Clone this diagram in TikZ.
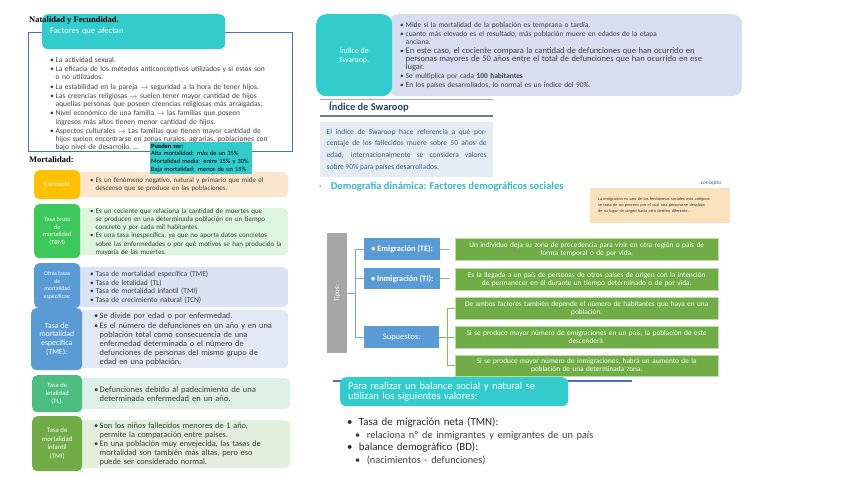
\documentclass[tikz,border=0pt]{standalone}
\usepackage{fontspec}
\setmainfont{Carlito}
\newfontfamily\titlefont{Liberation Serif}
\usepackage{xcolor}
\usepackage{tikz}
\usetikzlibrary{positioning, calc}

\definecolor{headcyan}{RGB}{51,204,204}
\definecolor{frameblue}{RGB}{68,114,196}
\definecolor{concorange}{RGB}{255,192,0}
\definecolor{concpale}{RGB}{252,229,205}
\definecolor{tbmgreen}{RGB}{60,200,90}
\definecolor{tbmpale}{RGB}{222,246,222}
\definecolor{tasablue}{RGB}{91,155,213}
\definecolor{tasapale}{RGB}{218,227,243}
\definecolor{tlgreen}{RGB}{76,190,130}
\definecolor{tlpale}{RGB}{222,240,232}
\definecolor{tmigreen}{RGB}{112,173,71}
\definecolor{tmipale}{RGB}{226,239,218}
\definecolor{swarpale}{RGB}{214,222,240}
\definecolor{tiposgray}{RGB}{166,166,166}
\definecolor{headnavy}{RGB}{38,64,100}
\definecolor{rulegray}{RGB}{100,130,130}
\definecolor{notebg}{RGB}{228,237,244}
\definecolor{notetext}{RGB}{55,95,135}
\definecolor{demoteal}{RGB}{55,185,195}
\definecolor{notepeach}{RGB}{250,226,188}
\definecolor{bodygray}{RGB}{64,64,64}

\newcommand{\bul}[1][5.5pt]{\hangindent=#1\hangafter=1\noindent\hbox to #1{\textbullet\hss}}
\newcommand{\itm}{\par\bul}

\tikzset{
  headbar/.style={
    rectangle, rounded corners=6pt, fill=headcyan, text=white,
    anchor=north west, align=left
  },
  natframe/.style={
    rectangle, draw=frameblue, line width=1.2pt, anchor=north west
  },
  bigtitle/.style={
    font=\titlefont\fontsize{8.5}{10}\selectfont\bfseries, inner sep=0pt
  },
  listtext/.style={
    anchor=north west, align=left, text=bodygray, inner sep=0pt
  },
  tagbox/.style={
    rectangle, rounded corners=5pt, anchor=north west, align=center,
    text=white, inner sep=1pt
  },
  panel/.style={
    rectangle, rounded corners=6pt, anchor=north west, align=left,
    text=bodygray, inner xsep=4pt, inner ysep=0pt
  },
  tipobox/.style={
    rectangle, fill=tasablue, anchor=north west, text=white,
    minimum width=76, font=\fontsize{8.5}{10}\selectfont
  },
  defbox/.style={
    rectangle, fill=tmigreen, draw=tmigreen!45!white, anchor=north west,
    text=white, align=center, minimum width=263, text width=257,
    inner xsep=3pt, inner ysep=0pt, font=\fontsize{7.3}{7.7}\selectfont
  },
  bluelink/.style={draw=tasablue!85!white, line width=1.3pt},
  greenlink/.style={draw=tmigreen!85!white, line width=1.3pt}
}

\begin{document}
\begin{tikzpicture}[x=1pt, y=-1pt]
  \fill[white] (0,0) rectangle (848,477);
  \useasboundingbox (0,0) rectangle (848,477);

  \node[natframe, minimum width=264, minimum height=119] (natbox) at (28,32) {};
  \node[headbar, minimum width=183, minimum height=35, text width=167,
    font=\fontsize{8.5}{10}\selectfont] (factores) at (42,14) {Factores que afectan};
  \node[bigtitle, anchor=west] (natal) at (29,20) {Natalidad y Fecundidad.};
  \node[listtext, text width=236, font=\fontsize{7.5}{8.3}\selectfont] (natlist) at (48,57)
    {\leftskip=2pt\parskip=0.9pt
     \bul La actividad sexual.
     \itm La eficacia de los métodos anticonceptivos utilizados y si estos son\newline o no utilizados.
     \itm La estabilidad en la pareja $\rightarrow$ seguridad a la hora de tener hijos.
     \itm Las creencias religiosas $\rightarrow$ suelen tener mayor cantidad de hijos\newline aquellas personas que poseen creencias religiosas más arraigadas.
     \itm Nivel económico de una familia $\rightarrow$ las familias que poseen\newline ingresos más altos tienen menor cantidad de hijos.
     \itm Aspectos culturales $\rightarrow$ Las familias que tienen mayor cantidad de\newline hijos suelen encontrarse en zonas rurales, agrarias, poblaciones con\newline bajo nivel de desarrollo, …\par};
  \node[bigtitle, anchor=west] (mortal) at (29,160) {Mortalidad:};

  \node[panel, fill=concpale, minimum width=212, minimum height=25, text width=204,
    font=\fontsize{7}{8}\selectfont] (concdef) at (76,172)
    {\leftskip=10pt \bul Es un fenómeno negativo, natural y primario que mide el\newline descenso que se produce en las poblaciones.\par};
  \node[tagbox, fill=concorange, minimum width=46, minimum height=29,
    font=\fontsize{6.8}{8}\selectfont] (concepto) at (34,170) {Concepto};
  \node[headbar, rounded corners=0pt, text=black, minimum width=102, minimum height=32,
    text width=100, inner xsep=1pt, inner ysep=0pt, font=\fontsize{6.4}{7.9}\selectfont] (pueden) at (150,142)
    {\textbf{Pueden ser:}\\Alta mortalidad: más de un 35\%\\Mortalidad media: entre 15\% y 30\%\\Baja mortalidad: menos de un 15\%};

  \node[panel, fill=tbmpale, minimum width=212, minimum height=46, text width=204,
    font=\fontsize{7}{8.1}\selectfont] (tbmdef) at (76,208)
    {\leftskip=10pt\parskip=0.6pt
     \bul Es un cociente que relaciona la cantidad de muertes que\newline se producen en una determinada población en un tiempo\newline concreto y por cada mil habitantes.
     \itm Es una tasa inespecífica, ya que no aporta datos concretos\newline sobre las enfermedades o por qué motivos se han producido la\newline mayoría de las muertes.\par};
  \node[tagbox, fill=tbmgreen, minimum width=46, minimum height=54,
    font=\fontsize{6.3}{7.4}\selectfont] (tbm) at (34,204) {Tasa bruta\\de\\mortalidad\\(TBM)};

  \node[panel, fill=tasapale, minimum width=212, minimum height=40, text width=204,
    font=\fontsize{7.5}{8.6}\selectfont] (otrasdef) at (76,267)
    {\leftskip=10pt
     \bul Tasa de mortalidad específica (TME)
     \itm Tasa de letalidad (TL)
     \itm Tasa de mortalidad infantil (TMI)
     \itm Tasa de crecimiento natural (TCN)\par};
  \node[tagbox, fill=tasablue, minimum width=46, minimum height=45,
    font=\fontsize{5.8}{7.6}\selectfont] (otras) at (34,263) {Otras tasas\\de\\mortalidad\\específicas:};

  \node[panel, fill=tasapale!80!white, minimum width=210, minimum height=58, text width=202,
    font=\fontsize{8.3}{9}\selectfont] (tmedef) at (78,310)
    {\leftskip=12pt\parskip=1pt
     \bul Se divide por edad o por enfermedad.
     \itm Es el número de defunciones en un año y en una\newline población total como consecuencia de una\newline enfermedad determinada o el número de\newline defunciones de personas del mismo grupo de\newline edad en una población.\par};
  \node[tagbox, fill=tasablue, minimum width=51, minimum height=62,
    font=\fontsize{7.8}{8.8}\selectfont] (tme) at (31,308) {Tasa de\\mortalidad\\específica\\(TME):};

  \node[panel, fill=tlpale, minimum width=212, minimum height=31, text width=204,
    font=\fontsize{8.5}{9}\selectfont] (tldef) at (78,378)
    {\leftskip=12pt \bul Defunciones debido al padecimiento de una\newline determinada enfermedad en un año.\par};
  \node[tagbox, fill=tlgreen, minimum width=50, minimum height=37,
    font=\fontsize{6.6}{8}\selectfont] (tl) at (32,375) {Tasa de\\letalidad\\(TL).};

  \node[panel, fill=tmipale, minimum width=212, minimum height=48, text width=204,
    font=\fontsize{8.3}{8.6}\selectfont] (tmidef) at (78,420)
    {\leftskip=12pt\parskip=1pt
     \bul Son los niños fallecidos menores de 1 año,\newline permite la comparación entre países.
     \itm En una población muy envejecida, las tasas de\newline mortalidad son también más altas, pero eso\newline puede ser considerado normal.\par};
  \node[tagbox, fill=tmigreen, minimum width=50, minimum height=55,
    font=\fontsize{6.8}{8.5}\selectfont] (tmi) at (32,416) {Tasa de\\mortalidad\\infantil\\(TMI)};

  \node[panel, rounded corners=10pt, fill=swarpale, minimum width=354, minimum height=82,
    text width=346, font=\fontsize{7.4}{8}\selectfont] (swardef) at (388,14)
    {\leftskip=8pt\parskip=1pt
     \bul Mide si la mortalidad de la población es temprana o tardía.
     \itm cuanto más elevado es el resultado, más población muere en edades de la etapa\newline anciana.
     \itm {\fontsize{8.5}{8}\selectfont En este caso, el cociente compara la cantidad de defunciones que han ocurrido en\newline personas mayores de 50 años entre el total de defunciones que han ocurrido en ese\newline lugar.}
     \itm Se multiplica por cada \textbf{100 habitantes}
     \itm En los países desarrollados, lo normal es un índice del 90\%.\par};
  \node[tagbox, rounded corners=10pt, fill=headcyan, minimum width=76, minimum height=82,
    font=\fontsize{7.8}{8.5}\selectfont] (swaroop) at (316,14) {Índice de\\Swaroop.};

  \node[anchor=west, inner sep=0pt, text=headnavy, font=\fontsize{10.4}{11}\selectfont\bfseries]
    (swartitle) at (329,107) {Índice de Swaroop};
  \node[rectangle, fill=notebg, anchor=north west, minimum width=173, minimum height=55,
    text width=160, inner xsep=6.5pt, align=justify, text=notetext,
    font=\fontsize{7.5}{11.8}\selectfont] (swarnote) at (320,122)
    {El índice de Swaroop hace referencia a qué por-\break centaje de los fallecidos muere sobre 50 años de\break edad, internacionalmente se considera valores\break sobre 90\% para países desarrollados.};
  \draw[gray!70, line width=0.8pt] ($(swarnote.west |- swaroop.south)+(0,3)$) -- ($(swarnote.east |- swaroop.south)+(0,3)$);
  \draw[rulegray, line width=1.4pt] ($(swarnote.north west)+(0,-6)$) -- ($(swarnote.north east)+(0,-6)$);

  \node[anchor=west, inner sep=0pt, text=demoteal, font=\fontsize{10.5}{11}\selectfont\bfseries]
    (demo) at (319,187) {{\color{gray}\mdseries·}\hspace{9pt}Demografía dinámica: Factores demográficos sociales};

  \node[anchor=center, inner sep=0pt, text=notetext, font=\fontsize{5.5}{6}\selectfont\itshape]
    (conclabel) at (711,183) {concepto};
  \node[rectangle, fill=notepeach, anchor=north west, minimum width=140, minimum height=35,
    text width=124, inner xsep=8pt, align=left, text=black!80,
    font=\fontsize{4.3}{6}\selectfont] (concnote) at (590,188)
    {La emigración es uno de los fenómenos sociales más antiguos,\\se trata de un proceso por el cual una persona se desplaza\\de su lugar de origen hacia otro destino diferente.};

  \node[rectangle, fill=tiposgray, anchor=north west, minimum width=20, minimum height=120,
    text=white, font=\fontsize{7}{8}\selectfont] (tipos) at (327,233) {\rotatebox{90}{Tipos:}};
  \node[tipobox, minimum height=22, font=\fontsize{8.3}{10}\selectfont\bfseries] (emig) at (364,238) {\textbullet\ Emigración (TE):};
  \node[tipobox, minimum height=21, font=\fontsize{8.3}{10}\selectfont\bfseries] (inmig) at (364,268) {\textbullet\ Inmigración (TI):};
  \node[tipobox, minimum width=75, minimum height=22] (supu) at (364,326) {Supuestos:};

  \node[defbox, minimum height=22] (emigdef) at (455,238)
    {Un individuo deja su zona de procedencia para vivir en otra región o país de\\forma temporal o de por vida.};
  \node[defbox, minimum height=22] (inmigdef) at (455,268)
    {Es la llegada a un país de personas de otros países de origen con la intención\\de permanecer en él durante un tiempo determinado o de por vida.};
  \node[defbox, minimum height=22] (supa) at (455,297)
    {De ambos factores también depende el número de habitantes que haya en una\\población.};
  \node[defbox, minimum height=22] (supb) at (455,326)
    {Si se produce mayor número de emigraciones en un país, la población de este\\descenderá.};
  \node[defbox, minimum height=21] (supc) at (455,355)
    {Si se produce mayor número de inmigraciones, habrá un aumento de la\\población de una determinada zona.};

  \coordinate (tbar) at ($(tipos.east)+(8,0)$);
  \draw[bluelink] (tipos.east) -- (tbar);
  \draw[bluelink] (emig.west) -| (tbar);
  \draw[bluelink] (supu.west) -| (tbar);
  \draw[bluelink] (inmig.west) -- (inmig.west -| tbar);
  \draw[greenlink, shorten >=6pt] (emig.east) -- (emigdef.west);
  \draw[greenlink, shorten >=6pt] (inmig.east) -- (inmig.east -| inmigdef.west);
  \coordinate (sbar) at ($(supu.east)+(8,0)$);
  \draw[greenlink] (supu.east) -- (sbar);
  \draw[greenlink] (supa.west) -| (sbar);
  \draw[greenlink] (supc.west) -| (sbar);
  \draw[greenlink] (supb.west) -- (supb.west -| sbar);

  \coordinate (balrule) at (632,381);
  \draw[frameblue, line width=1.2pt] (333,381) -- (balrule);
  \node[headbar, minimum width=228, minimum height=29, text width=212, inner xsep=8pt,
    font=\fontsize{10.5}{10}\selectfont] (balhead) at (340,377)
    {Para realizar un balance social y natural se\\utilizan los siguientes valores:};
  \node[listtext, text width=290, text=black!85, font=\fontsize{10.9}{12.5}\selectfont] (ballist) at (347,417.5)
    {\bul[8pt] Tasa de migración neta (TMN):\par
     {\fontsize{10.3}{12.5}\selectfont\color{bodygray}\leftskip=8pt \bul[8pt] relaciona nº de inmigrantes y emigrantes de un país\par}
     \bul[8pt] balance demográfico (BD):\par
     {\fontsize{10.3}{12.5}\selectfont\color{bodygray}\leftskip=8pt \bul[8pt] (nacimientos - defunciones)\par}};
\end{tikzpicture}
\end{document}
